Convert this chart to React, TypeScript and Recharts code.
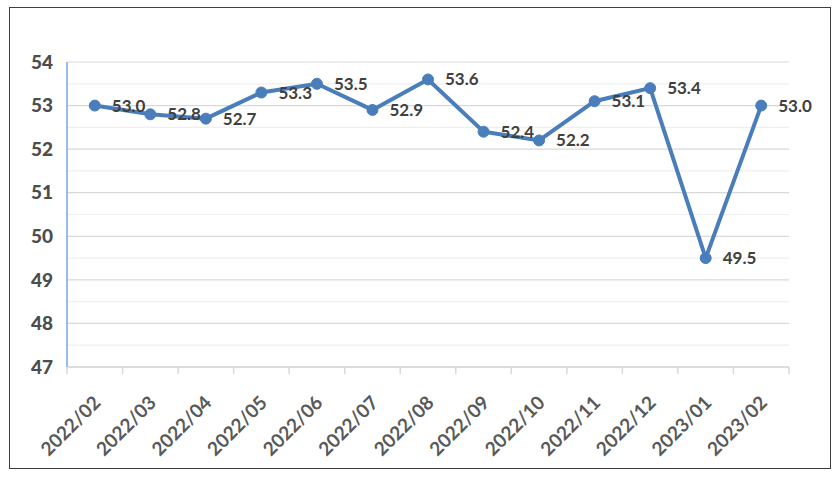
import React from 'react';
import { LineChart, Line, XAxis, YAxis, CartesianGrid, ReferenceLine, LabelList } from 'recharts';

const categories = ['2022/02', '2022/03', '2022/04', '2022/05', '2022/06', '2022/07', '2022/08', '2022/09', '2022/10', '2022/11', '2022/12', '2023/01', '2023/02'];
const values = [53.0, 52.8, 52.7, 53.3, 53.5, 52.9, 53.6, 52.4, 52.2, 53.1, 53.4, 49.5, 53.0];
const yTicks = [47, 48, 49, 50, 51, 52, 53, 54];
const halfTicks = [47.5, 48.5, 49.5, 50.5, 51.5, 52.5, 53.5];

const data = categories.map((c, i) => ({ month: c, value: values[i] }));

const PLOT_LEFT = 67;
const PLOT_RIGHT = 789;
const BW = (PLOT_RIGHT - PLOT_LEFT) / categories.length;

const XTick = (props: any) => {
  const { x, y, payload, index } = props;
  const n = categories.length;
  const ax = x + 7;
  const ay = y + 37;
  return (
    <g>
      <line x1={x - BW / 2} y1={y} x2={x - BW / 2} y2={y + 7} stroke="#d9d9d9" strokeWidth={1.5} />
      {index === n - 1 && (
        <line x1={x + BW / 2} y1={y} x2={x + BW / 2} y2={y + 7} stroke="#d9d9d9" strokeWidth={1.5} />
      )}
      <text
        x={ax}
        y={ay}
        transform={`rotate(-45 ${ax} ${ay})`}
        textAnchor="end"
        fill="#595959"
        fontSize={19}
        fontWeight="bold"
        fontFamily="Lato, 'Open Sans', sans-serif"
      >
        {payload.value}
      </text>
    </g>
  );
};

const PointLabel = (props: any) => {
  const { x, y, value } = props;
  return (
    <text
      x={x + 17}
      y={y + 6}
      fill="#404040"
      fontSize={17}
      fontWeight="bold"
      fontFamily="Lato, 'Open Sans', sans-serif"
    >
      {Number(value).toFixed(1)}
    </text>
  );
};

export default function App() {
  return (
    <div style={{ position: 'absolute', left: 0, top: 0, width: 839, height: 479, background: '#fff' }}>
      <div
        style={{
          position: 'absolute',
          left: 9,
          top: 7,
          width: 820,
          height: 460,
          border: '1.5px solid #3f3f3f',
        }}
      />
      <div style={{ position: 'absolute', left: 0, top: 0 }}>
        <LineChart width={839} height={479} data={data} margin={{ top: 62, right: 50, bottom: 12, left: 10 }}>
          <CartesianGrid vertical={false} stroke="#d9d9d9" strokeWidth={1.2} />
          {halfTicks.map((v) => (
            <ReferenceLine key={v} y={v} stroke="#efefef" strokeWidth={1.2} ifOverflow="hidden" />
          ))}
          <XAxis
            dataKey="month"
            height={100}
            tickSize={0}
            tickMargin={0}
            tickLine={false}
            padding={{ left: BW / 2, right: BW / 2 }}
            axisLine={{ stroke: '#d9d9d9', strokeWidth: 1.5 }}
            interval={0}
            tick={<XTick />}
          />
          <YAxis
            width={57}
            domain={[47, 54]}
            ticks={yTicks}
            interval={0}
            tickSize={0}
            tickMargin={14}
            tickLine={false}
            axisLine={{ stroke: '#7aa6da', strokeWidth: 1.5 }}
            tick={{ fill: '#4d4d4d', fontSize: 19, fontWeight: 900, fontFamily: "Lato, 'Open Sans', sans-serif" }}
          />
          <Line
            type="linear"
            dataKey="value"
            stroke="#4a7ebb"
            strokeWidth={4}
            dot={{ r: 5.5, fill: '#4a7ebb', stroke: '#4a7ebb', strokeWidth: 1 }}
            activeDot={false}
            isAnimationActive={false}
          >
            <LabelList dataKey="value" content={<PointLabel />} />
          </Line>
        </LineChart>
      </div>
    </div>
  );
}
